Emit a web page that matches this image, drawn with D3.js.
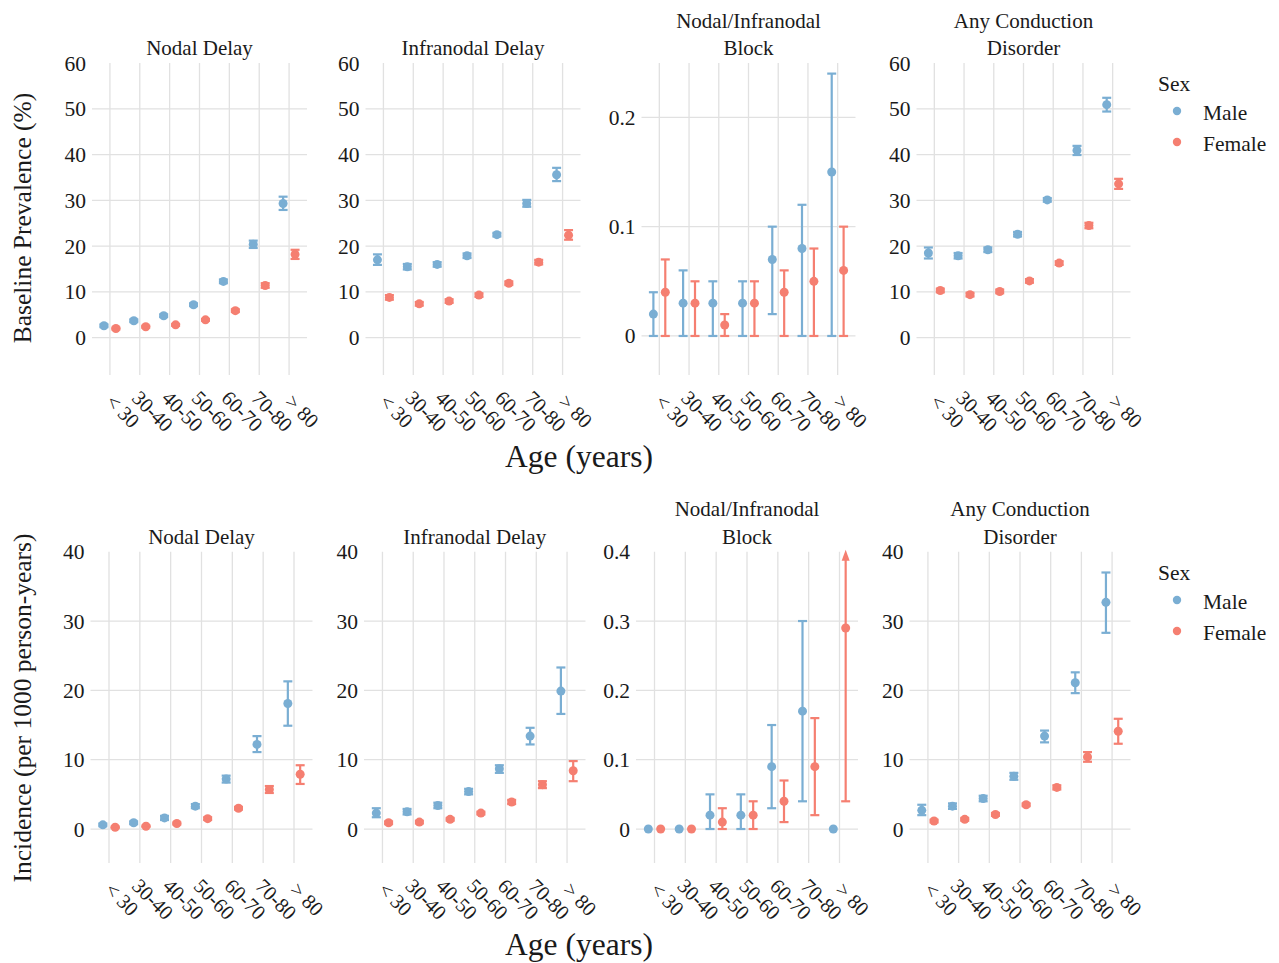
<!DOCTYPE html>
<html>
<head>
<meta charset="utf-8">
<script src="https://cdn.jsdelivr.net/npm/d3@7"></script>
<style>
  body { margin: 0; background: #fff; }
  text { font-family: "Liberation Serif", "DejaVu Serif", serif; fill: #1a1a1a; }
</style>
</head>
<body>
<svg id="chart" width="1279" height="963"></svg>
<script>
// age groups on the x axis
const ages = ["< 30", "30-40", "40-50", "50-60", "60-70", "70-80", "> 80"];
const sexes = ["Male", "Female"];
const sexColors = ["#7aaed3", "#f57f71"];

// [estimate, lower, upper] per age group
// Baseline prevalence (%)
const prevNodalMale = [[2.6, 2.3, 2.9], [3.7, 3.4, 4.0], [4.8, 4.5, 5.1], [7.2, 6.9, 7.5], [12.3, 11.9, 12.7], [20.4, 19.6, 21.2], [29.3, 27.9, 30.8]];
const prevNodalFemale = [[2.0, 1.8, 2.2], [2.4, 2.2, 2.6], [2.8, 2.6, 3.0], [3.9, 3.7, 4.1], [5.9, 5.6, 6.2], [11.4, 10.9, 11.9], [18.2, 17.2, 19.2]];
const prevInfraMale = [[17.0, 15.9, 18.2], [15.5, 14.9, 16.1], [16.0, 15.5, 16.5], [17.9, 17.4, 18.4], [22.5, 22.1, 22.9], [29.3, 28.6, 30.1], [35.6, 34.2, 37.1]];
const prevInfraFemale = [[8.8, 8.3, 9.3], [7.4, 7.0, 7.8], [8.0, 7.6, 8.4], [9.3, 8.9, 9.7], [11.9, 11.5, 12.3], [16.5, 16.0, 17.0], [22.4, 21.4, 23.5]];
const prevBlockMale = [[0.02, 0, 0.04], [0.03, 0, 0.06], [0.03, 0, 0.05], [0.03, 0, 0.05], [0.07, 0.02, 0.10], [0.08, 0, 0.12], [0.15, 0, 0.24]];
const prevBlockFemale = [[0.04, 0, 0.07], [0.03, 0, 0.05], [0.01, 0, 0.02], [0.03, 0, 0.05], [0.04, 0, 0.06], [0.05, 0, 0.08], [0.06, 0, 0.10]];
const prevAnyMale = [[18.5, 17.3, 19.7], [17.9, 17.3, 18.5], [19.2, 18.7, 19.7], [22.6, 22.1, 23.1], [30.1, 29.7, 30.5], [40.9, 39.9, 41.9], [50.9, 49.4, 52.4]];
const prevAnyFemale = [[10.3, 9.9, 10.7], [9.4, 9.0, 9.8], [10.1, 9.7, 10.5], [12.4, 12.0, 12.8], [16.3, 15.9, 16.7], [24.5, 23.9, 25.1], [33.6, 32.5, 34.7]];

// Incidence (per 1000 person-years)
const incNodalMale = [[0.6, 0.4, 0.8], [0.9, 0.7, 1.1], [1.6, 1.3, 1.9], [3.3, 3.0, 3.6], [7.2, 6.7, 7.7], [12.2, 11.1, 13.4], [18.1, 14.9, 21.3]];
const incNodalFemale = [[0.25, 0.15, 0.35], [0.4, 0.3, 0.5], [0.8, 0.65, 0.95], [1.5, 1.3, 1.7], [3.0, 2.8, 3.2], [5.7, 5.2, 6.2], [7.9, 6.5, 9.2]];
const incInfraMale = [[2.3, 1.7, 3.0], [2.5, 2.1, 2.9], [3.4, 3.0, 3.8], [5.4, 5.0, 5.8], [8.7, 8.1, 9.2], [13.4, 12.2, 14.6], [19.9, 16.6, 23.3]];
const incInfraFemale = [[0.9, 0.7, 1.1], [1.0, 0.8, 1.2], [1.4, 1.2, 1.6], [2.3, 2.1, 2.5], [3.9, 3.6, 4.2], [6.4, 5.9, 6.9], [8.4, 6.9, 9.8]];
const incBlockMale = [[0, null, null], [0, null, null], [0.02, 0, 0.05], [0.02, 0, 0.05], [0.09, 0.03, 0.15], [0.17, 0.04, 0.30], [0, null, null]];
const incBlockFemale = [[0, null, null], [0, null, null], [0.01, 0, 0.03], [0.02, 0, 0.04], [0.04, 0.01, 0.07], [0.09, 0.02, 0.16], [0.29, 0.04, Infinity]];
const incAnyMale = [[2.7, 2.0, 3.5], [3.3, 2.9, 3.7], [4.4, 4.0, 4.8], [7.6, 7.1, 8.1], [13.4, 12.5, 14.2], [21.1, 19.6, 22.6], [32.7, 28.3, 37.0]];
const incAnyFemale = [[1.15, 0.95, 1.35], [1.4, 1.2, 1.6], [2.1, 1.9, 2.3], [3.5, 3.3, 3.7], [6.0, 5.7, 6.3], [10.4, 9.7, 11.1], [14.1, 12.3, 15.9]];

const prevTicks = [0, 10, 20, 30, 40, 50, 60];
const prevBlockTicks = [0, 0.1, 0.2];
const incTicks = [0, 10, 20, 30, 40];
const incBlockTicks = [0, 0.1, 0.2, 0.3, 0.4];

const svg = d3.select("#chart");

const rows = [
  {
    top: 63, bottom: 375, yTitle: "Baseline Prevalence (%)", yTitleY: 218, xTitleY: 467, legendY: 83,
    panels: [
      {title: ["Nodal Delay"], x0: 92, w: 215, domain: [-8.15, 60], ticks: prevTicks, male: prevNodalMale, female: prevNodalFemale},
      {title: ["Infranodal Delay"], x0: 365.5, w: 215, domain: [-8.15, 60], ticks: prevTicks, male: prevInfraMale, female: prevInfraFemale},
      {title: ["Nodal/Infranodal", "Block"], x0: 641.5, w: 214, domain: [-0.0357, 0.2497], ticks: prevBlockTicks, male: prevBlockMale, female: prevBlockFemale},
      {title: ["Any Conduction", "Disorder"], x0: 916.5, w: 214, domain: [-8.15, 60], ticks: prevTicks, male: prevAnyMale, female: prevAnyFemale}
    ]
  },
  {
    top: 551.7, bottom: 863, yTitle: "Incidence (per 1000 person-years)", yTitleY: 708, xTitleY: 955, legendY: 572,
    panels: [
      {title: ["Nodal Delay"], x0: 90.5, w: 222, domain: [-4.9, 40], ticks: incTicks, male: incNodalMale, female: incNodalFemale},
      {title: ["Infranodal Delay"], x0: 364, w: 221.5, domain: [-4.9, 40], ticks: incTicks, male: incInfraMale, female: incInfraFemale},
      {title: ["Nodal/Infranodal", "Block"], x0: 636, w: 222, domain: [-0.049, 0.4], ticks: incBlockTicks, male: incBlockMale, female: incBlockFemale},
      {title: ["Any Conduction", "Disorder"], x0: 909.5, w: 221, domain: [-4.9, 40], ticks: incTicks, male: incAnyMale, female: incAnyFemale}
    ]
  }
];

const fmt = v => String(+v.toFixed(2));

rows.forEach(row => {
  row.panels.forEach(p => {
    const g = svg.append("g");
    const x = d3.scalePoint().domain(ages).range([p.x0, p.x0 + p.w]).padding(0.6);
    const step = x.step();
    const y = d3.scaleLinear().domain(p.domain).range([row.bottom, row.top]);

    // grid
    g.selectAll(".vgrid").data(ages).join("line")
      .attr("x1", d => x(d)).attr("x2", d => x(d))
      .attr("y1", row.top).attr("y2", row.bottom)
      .attr("stroke", "#e1e1e1").attr("stroke-width", 1.3);
    const gridTicks = p.ticks.filter(t => y(t) > row.top + 2);
    g.selectAll(".hgrid").data(gridTicks).join("line")
      .attr("x1", p.x0).attr("x2", p.x0 + p.w)
      .attr("y1", d => y(d)).attr("y2", d => y(d))
      .attr("stroke", "#e1e1e1").attr("stroke-width", 1.3);

    // y tick labels
    g.selectAll(".ylab").data(p.ticks).join("text")
      .attr("x", p.x0 - 6).attr("y", d => y(d)).attr("dy", "0.35em")
      .attr("text-anchor", "end").attr("font-size", 21.5)
      .text(fmt);

    // x tick labels (rotated)
    g.selectAll(".xlab").data(ages).join("text")
      .attr("transform", d => `translate(${x(d) + 13},${row.bottom + 36}) rotate(45)`)
      .attr("text-anchor", "middle").attr("dy", "0.35em").attr("font-size", 20.5)
      .text(d => d);

    // panel title
    const tt = g.append("text")
      .attr("x", p.x0 + p.w / 2).attr("text-anchor", "middle").attr("font-size", 21);
    p.title.forEach((line, i) => {
      tt.append("tspan")
        .attr("x", p.x0 + p.w / 2)
        .attr("y", row.top - 8 - (p.title.length - 1 - i) * 27.5)
        .text(line);
    });

    // marks
    [p.male, p.female].forEach((series, si) => {
      const col = sexColors[si];
      const off = (si === 0 ? -0.2 : 0.2) * step;
      const pts = series.map((d, i) => ({age: ages[i], v: d[0], lo: d[1], hi: d[2]}));
      const cx = d => x(d.age) + off;
      const bars = pts.filter(d => d.lo !== null);

      g.selectAll(null).data(pts).join("circle")
        .attr("cx", cx).attr("cy", d => y(d.v)).attr("r", 4.5)
        .attr("fill", col);

      g.selectAll(null).data(bars).join("line")
        .attr("x1", cx).attr("x2", cx)
        .attr("y1", d => y(d.lo))
        .attr("y2", d => isFinite(d.hi) ? y(d.hi) : row.top + 4)
        .attr("stroke", col).attr("stroke-width", 2.2);
      g.selectAll(null).data(bars).join("line")
        .attr("x1", d => cx(d) - 4.5).attr("x2", d => cx(d) + 4.5)
        .attr("y1", d => y(d.lo)).attr("y2", d => y(d.lo))
        .attr("stroke", col).attr("stroke-width", 2.2);
      g.selectAll(null).data(bars.filter(d => isFinite(d.hi))).join("line")
        .attr("x1", d => cx(d) - 4.5).attr("x2", d => cx(d) + 4.5)
        .attr("y1", d => y(d.hi)).attr("y2", d => y(d.hi))
        .attr("stroke", col).attr("stroke-width", 2.2);
      // off-scale upper limit drawn as an arrow
      g.selectAll(null).data(bars.filter(d => !isFinite(d.hi))).join("path")
        .attr("d", d => `M${cx(d)},${row.top - 2}L${cx(d) - 4},${row.top + 9}L${cx(d) + 4},${row.top + 9}Z`)
        .attr("fill", col);
    });
  });

  // axis titles
  svg.append("text")
    .attr("transform", `translate(31,${row.yTitleY}) rotate(-90)`)
    .attr("text-anchor", "middle").attr("font-size", 25.5)
    .text(row.yTitle);
  svg.append("text")
    .attr("x", 579).attr("y", row.xTitleY)
    .attr("text-anchor", "middle").attr("font-size", 31.5)
    .text("Age (years)");

  // legend
  const lg = svg.append("g").attr("transform", `translate(1158,${row.legendY})`);
  lg.append("text").attr("x", 0).attr("y", 0).attr("dy", "0.35em").attr("font-size", 21.5).text("Sex");
  sexes.forEach((s, i) => {
    lg.append("circle").attr("cx", 19).attr("cy", 28 + i * 31).attr("r", 4.2).attr("fill", sexColors[i]);
    lg.append("text").attr("x", 45).attr("y", 29 + i * 31).attr("dy", "0.35em").attr("font-size", 21.5).text(s);
  });
});
</script>
</body>
</html>
